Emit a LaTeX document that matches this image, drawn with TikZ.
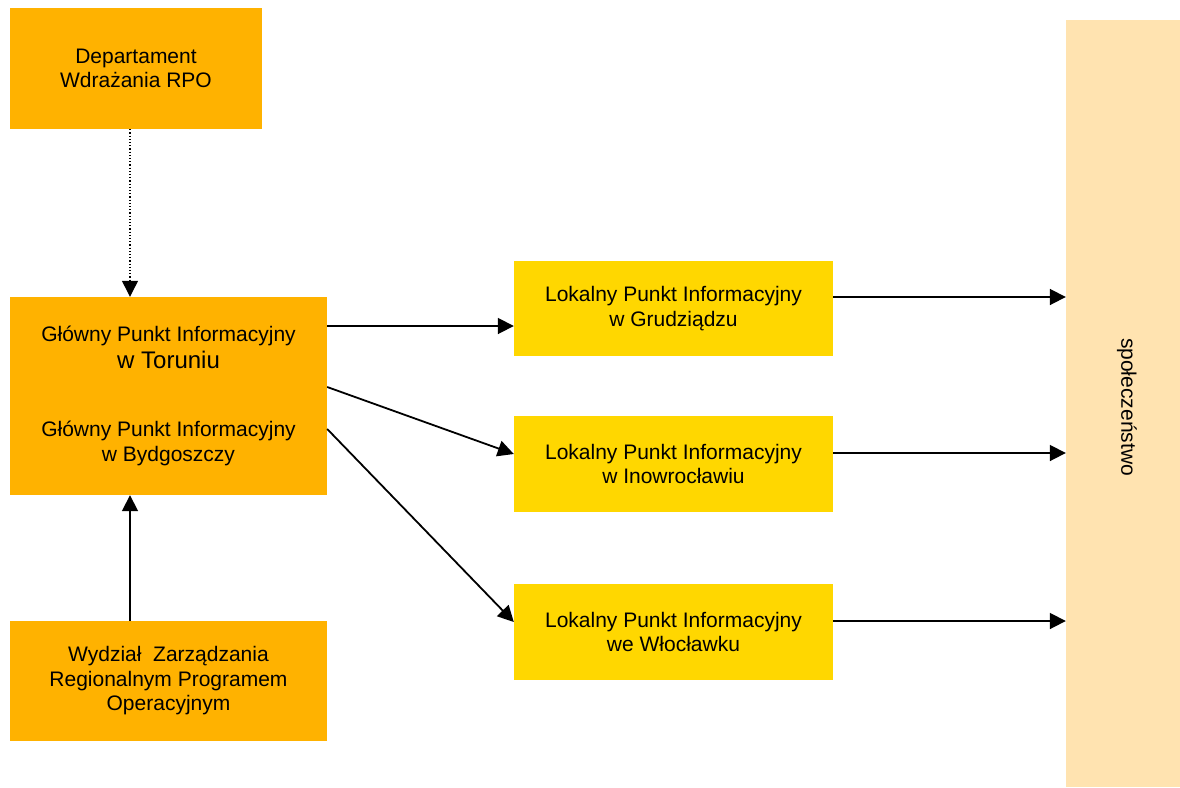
\documentclass[tikz,border=0pt]{standalone}
\usepackage{fontspec}
\setmainfont{Liberation Sans}
\usetikzlibrary{arrows.meta}
\definecolor{orangebox}{RGB}{255,178,0}
\definecolor{yellowbox}{RGB}{255,215,0}
\definecolor{peach}{RGB}{255,227,176}
\begin{document}
\begin{tikzpicture}[x=1pt,y=-1pt,
  box/.style={rectangle, inner sep=0pt, align=center, font=\fontsize{21}{24.5}\selectfont},
  mainbox/.style={box, fill=orangebox},
  localbox/.style={box, fill=yellowbox, minimum width=319pt, minimum height=96pt},
  arr/.style={line width=1.8pt, -{Triangle[length=16pt,width=16pt]}},
  dotarr/.style={line width=1.2pt, dotted, -{Triangle[length=16pt,width=16pt]}}
]
\useasboundingbox (0,0) rectangle (1180,787);

\node[mainbox, minimum width=252pt, minimum height=121pt] (dep) at (136,68.5)
  {Departament\\Wdrażania RPO};
\node[mainbox, minimum width=317pt, minimum height=198pt] (gl) at (168.5,396)
  {Główny Punkt Informacyjny\\[2pt]{\fontsize{24}{27}\selectfont w Toruniu}\\[44pt]Główny Punkt Informacyjny\\w Bydgoszczy};
\node[mainbox, minimum width=317pt, minimum height=120pt] (wyd) at (168.5,681)
  {Wydział\ \ Zarządzania\\Regionalnym Programem\\Operacyjnym};

\node[localbox, minimum height=95pt] (lg) at (673.5,308.5) {Lokalny Punkt Informacyjny\\w Grudziądzu};
\node[localbox] (li) at (673.5,464) {Lokalny Punkt Informacyjny\\w Inowrocławiu};
\node[localbox] (lw) at (673.5,632) {Lokalny Punkt Informacyjny\\we Włocławku};

\node[box, fill=peach, minimum width=114pt, minimum height=767pt] (sp) at (1123,403.5) {};
\node[box, rotate=-90] (spt) at (1127,407) {społeczeństwo};

\draw[dotarr] ([xshift=-6pt]dep.south) -- ([xshift=-6pt]dep.south |- gl.north);
\draw[arr] ([xshift=-38.5pt]wyd.north) -- ([xshift=-38.5pt]wyd.north |- gl.south);

\draw[arr] ([yshift=70pt]gl.east) -- ([yshift=70pt]gl.east -| lg.west);
\draw[arr] ([yshift=9pt]gl.east) -- ([yshift=10pt]li.west);
\draw[arr] ([yshift=-33pt]gl.east) -- ([yshift=10pt]lw.west);

\draw[arr] ([yshift=11.5pt]lg.east) -- ([yshift=11.5pt]lg.east -| sp.west);
\draw[arr] ([yshift=11pt]li.east) -- ([yshift=11pt]li.east -| sp.west);
\draw[arr] ([yshift=11pt]lw.east) -- ([yshift=11pt]lw.east -| sp.west);
\end{tikzpicture}
\end{document}
